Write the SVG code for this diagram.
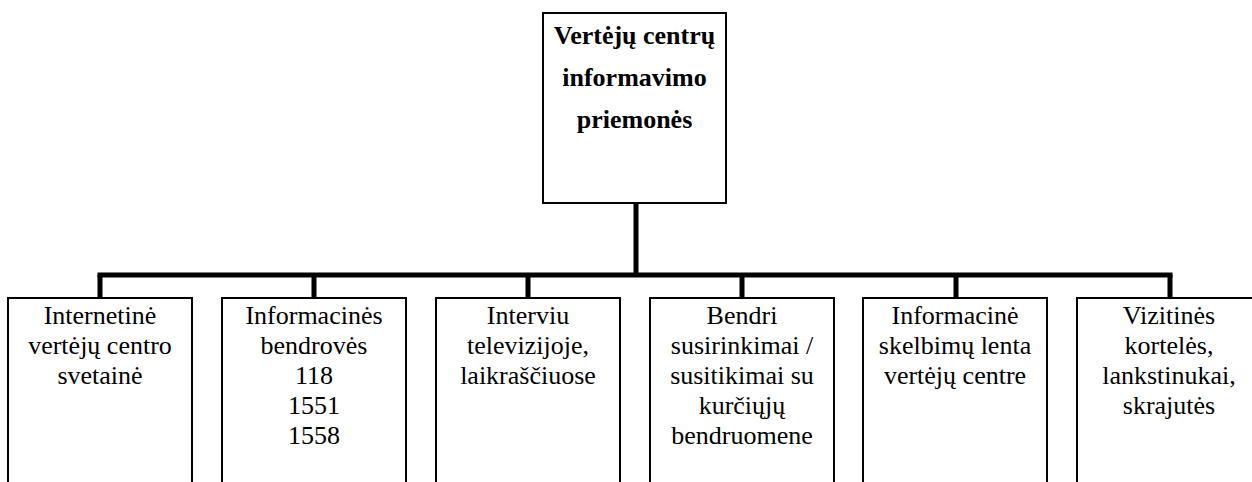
<svg xmlns="http://www.w3.org/2000/svg" width="1252" height="482" viewBox="0 0 1252 482">
<style>
.box{fill:#fff;stroke:#000;stroke-width:2}
.t{font-family:"Liberation Serif","Times New Roman",serif;font-size:26px;text-anchor:middle;fill:#000}
.b{font-weight:bold}
.c{stroke:#000;stroke-width:5;fill:none}
</style>
<g id="connectors">
<line class="c" x1="636" y1="203" x2="636" y2="275"/>
<line class="c" x1="97.5" y1="275" x2="1172.5" y2="275"/>
<line class="c" x1="100" y1="275" x2="100" y2="298"/>
<line class="c" x1="314" y1="275" x2="314" y2="298"/>
<line class="c" x1="528" y1="275" x2="528" y2="298"/>
<line class="c" x1="742" y1="275" x2="742" y2="298"/>
<line class="c" x1="956" y1="275" x2="956" y2="298"/>
<line class="c" x1="1170" y1="275" x2="1170" y2="298"/>
</g>
<g id="root">
<rect class="box" x="543" y="13" width="183" height="190"/>
<text class="t b" x="634.5" y="44">Vertėjų centrų</text>
<text class="t b" x="634.5" y="86">informavimo</text>
<text class="t b" x="634.5" y="128">priemonės</text>
</g>
<g id="n1">
<rect class="box" x="8" y="298" width="184" height="200"/>
<text class="t" x="100" y="324">Internetinė</text>
<text class="t" x="100" y="354">vertėjų centro</text>
<text class="t" x="100" y="384">svetainė</text>
</g>
<g id="n2">
<rect class="box" x="222" y="298" width="184" height="200"/>
<text class="t" x="314" y="324">Informacinės</text>
<text class="t" x="314" y="354">bendrovės</text>
<text class="t" x="314" y="384">118</text>
<text class="t" x="314" y="414">1551</text>
<text class="t" x="314" y="444">1558</text>
</g>
<g id="n3">
<rect class="box" x="436" y="298" width="184" height="200"/>
<text class="t" x="528" y="324">Interviu</text>
<text class="t" x="528" y="354">televizijoje,</text>
<text class="t" x="528" y="384">laikraščiuose</text>
</g>
<g id="n4">
<rect class="box" x="650" y="298" width="184" height="200"/>
<text class="t" x="742" y="324">Bendri</text>
<text class="t" x="742" y="354">susirinkimai /</text>
<text class="t" x="742" y="384">susitikimai su</text>
<text class="t" x="742" y="414">kurčiųjų</text>
<text class="t" x="742" y="444">bendruomene</text>
</g>
<g id="n5">
<rect class="box" x="863" y="298" width="184" height="200"/>
<text class="t" x="955" y="324">Informacinė</text>
<text class="t" x="955" y="354">skelbimų lenta</text>
<text class="t" x="955" y="384">vertėjų centre</text>
</g>
<g id="n6">
<rect class="box" x="1077" y="298" width="184" height="200"/>
<text class="t" x="1169" y="324">Vizitinės</text>
<text class="t" x="1169" y="354">kortelės,</text>
<text class="t" x="1169" y="384">lankstinukai,</text>
<text class="t" x="1169" y="414">skrajutės</text>
</g>
</svg>
